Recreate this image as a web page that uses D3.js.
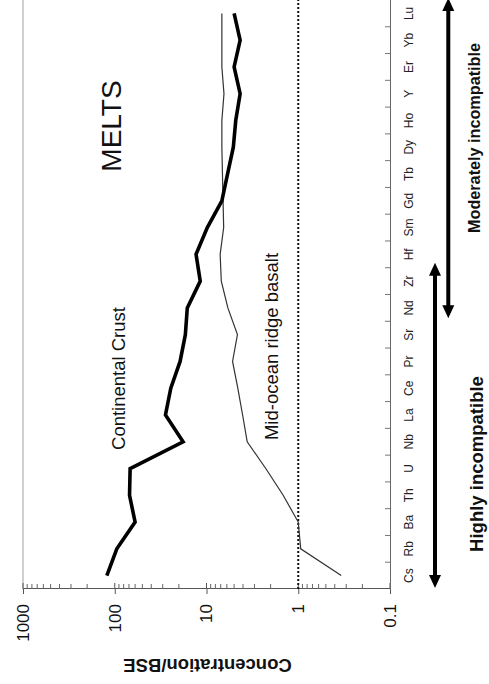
<!DOCTYPE html>
<html>
<head>
<meta charset="utf-8">
<script src="https://cdn.jsdelivr.net/npm/d3@7"></script>
<style>
  html, body { margin: 0; padding: 0; background: #fff; }
  svg { display: block; font-family: Arial, "Liberation Sans", sans-serif; }
</style>
</head>
<body>
<svg id="chart" width="489" height="684"></svg>
<script>
// Trace elements, ordered from most to least incompatible
const elements = ["Cs","Rb","Ba","Th","U","Nb","La","Ce","Pr","Sr","Nd","Zr","Hf","Sm","Gd","Tb","Dy","Ho","Y","Er","Yb","Lu"];

// Concentrations normalised to bulk silicate Earth
const continentalCrust = [122, 95, 60, 69, 68, 18, 28, 24.5, 19.4, 17, 16.2, 11.7, 13, 9.8, 6.8, 5.9, 5.1, 4.8, 4.3, 5.0, 4.3, 5.0];
const midOceanRidgeBasalt = [0.34, 0.94, 1.0, 1.46, 2.26, 3.6, 4.04, 4.56, 5.2, 4.6, 5.85, 6.9, 7.1, 6.5, 6.6, 6.7, 6.8, 6.8, 6.45, 6.8, 6.8, 6.8];

const valueTicks = [0.1, 1, 10, 100, 1000];
const valueTickLabels = ["0.1", "1", "10", "100", "1000"];

// Plot is built in its own frame (elements along, values up) and turned a quarter-turn
const W = 589, H = 367;
const svg = d3.select("#chart");
const g = svg.append("g").attr("transform", "translate(23,589) rotate(-90)");

const x = d3.scaleBand().domain(elements).range([0, W]);
const y = d3.scaleLog().domain([0.1, 1000]).range([H, 0]);
const cx = e => x(e) + x.bandwidth() / 2;

// upper frame line
g.append("line")
  .attr("x1", 0).attr("x2", W)
  .attr("y1", y(1000)).attr("y2", y(1000))
  .attr("stroke", "#a0a0a0").attr("stroke-width", 1);

// value axis (log)
const yAxis = g.append("g")
  .call(d3.axisLeft(y).tickValues(valueTicks)
    .tickFormat((d, i) => valueTickLabels[i])
    .tickSizeInner(5).tickSizeOuter(0).tickPadding(10));
yAxis.select(".domain").attr("stroke", "#555");
yAxis.selectAll(".tick line").attr("stroke", "#555");
yAxis.selectAll(".tick text").attr("font-size", 17).attr("fill", "#111");

// inner part of the major ticks
g.append("g").selectAll("line").data(valueTicks).join("line")
  .attr("x1", 0).attr("x2", 6)
  .attr("y1", d => y(d)).attr("y2", d => y(d))
  .attr("stroke", "#555");

// minor ticks
g.append("g").selectAll("line")
  .data(y.ticks().filter(d => !valueTicks.some(v => Math.abs(v - d) / v < 1e-9)))
  .join("line")
  .attr("x1", 0).attr("x2", 5)
  .attr("y1", d => y(d)).attr("y2", d => y(d))
  .attr("stroke", "#666");

// element axis
const xAxis = g.append("g").attr("transform", `translate(0,${H})`)
  .call(d3.axisBottom(x).tickSize(0).tickPadding(14.5));
xAxis.select(".domain").attr("stroke", "#666");
xAxis.selectAll(".tick text").attr("font-size", 12).attr("fill", "#222");

// tick marks between elements
g.append("g").selectAll("line")
  .data(elements.slice(1))
  .join("line")
  .attr("x1", d => x(d)).attr("x2", d => x(d))
  .attr("y1", H).attr("y2", H - 5)
  .attr("stroke", "#777");

// reference level: concentration equal to bulk silicate Earth
g.append("line")
  .attr("x1", 0).attr("x2", W)
  .attr("y1", y(1)).attr("y2", y(1))
  .attr("stroke", "#111").attr("stroke-width", 2)
  .attr("stroke-dasharray", "2,2");

const line = d3.line()
  .x((d, i) => cx(elements[i]))
  .y(d => y(d));

g.append("path").datum(midOceanRidgeBasalt)
  .attr("d", line).attr("fill", "none")
  .attr("stroke", "#333").attr("stroke-width", 1.2);

g.append("path").datum(continentalCrust)
  .attr("d", line).attr("fill", "none")
  .attr("stroke", "#000").attr("stroke-width", 3.6)
  .attr("stroke-linejoin", "miter");

// labels inside the plot
g.append("text").attr("x", 463).attr("y", 97.7)
  .attr("text-anchor", "middle").attr("font-size", 28).attr("fill", "#111")
  .text("MELTS");
g.append("text").attr("x", 210.5).attr("y", 102)
  .attr("text-anchor", "middle").attr("font-size", 18.5).attr("fill", "#111")
  .text("Continental Crust");
g.append("text").attr("x", 242.5).attr("y", 255)
  .attr("text-anchor", "middle").attr("font-size", 18.5).attr("fill", "#111")
  .text("Mid-ocean ridge basalt");

// axis title
g.append("text")
  .attr("transform", `translate(-69.7,${H / 2 + 1}) rotate(-90)`)
  .attr("text-anchor", "middle").attr("font-size", 18.5).attr("font-weight", "bold")
  .attr("fill", "#111")
  .text("Concentration/BSE");

// double-headed arrows marking the incompatibility ranges
function arrow(v, u0, u1) {
  const head = 13, half = 6;
  const a = g.append("g");
  a.append("line")
    .attr("x1", u0 + head - 1).attr("x2", u1 - head + 1)
    .attr("y1", v).attr("y2", v)
    .attr("stroke", "#000").attr("stroke-width", 4);
  a.append("path")
    .attr("d", `M${u0},${v} L${u0 + head},${v - half} L${u0 + head},${v + half} Z`)
    .attr("fill", "#000");
  a.append("path")
    .attr("d", `M${u1},${v} L${u1 - head},${v - half} L${u1 - head},${v + half} Z`)
    .attr("fill", "#000");
}
arrow(412, 1, x("Hf") + 5);
arrow(425.3, x("Nd") + 3, W + 2);

g.append("text").attr("x", 125).attr("y", 459.5)
  .attr("text-anchor", "middle").attr("font-size", 18.5).attr("font-weight", "bold")
  .attr("fill", "#111")
  .text("Highly incompatible");
g.append("text").attr("x", 451).attr("y", 457)
  .attr("text-anchor", "middle").attr("font-size", 17).attr("font-weight", "bold")
  .attr("fill", "#111")
  .attr("textLength", 190).attr("lengthAdjust", "spacingAndGlyphs")
  .text("Moderately incompatible");
</script>
</body>
</html>
